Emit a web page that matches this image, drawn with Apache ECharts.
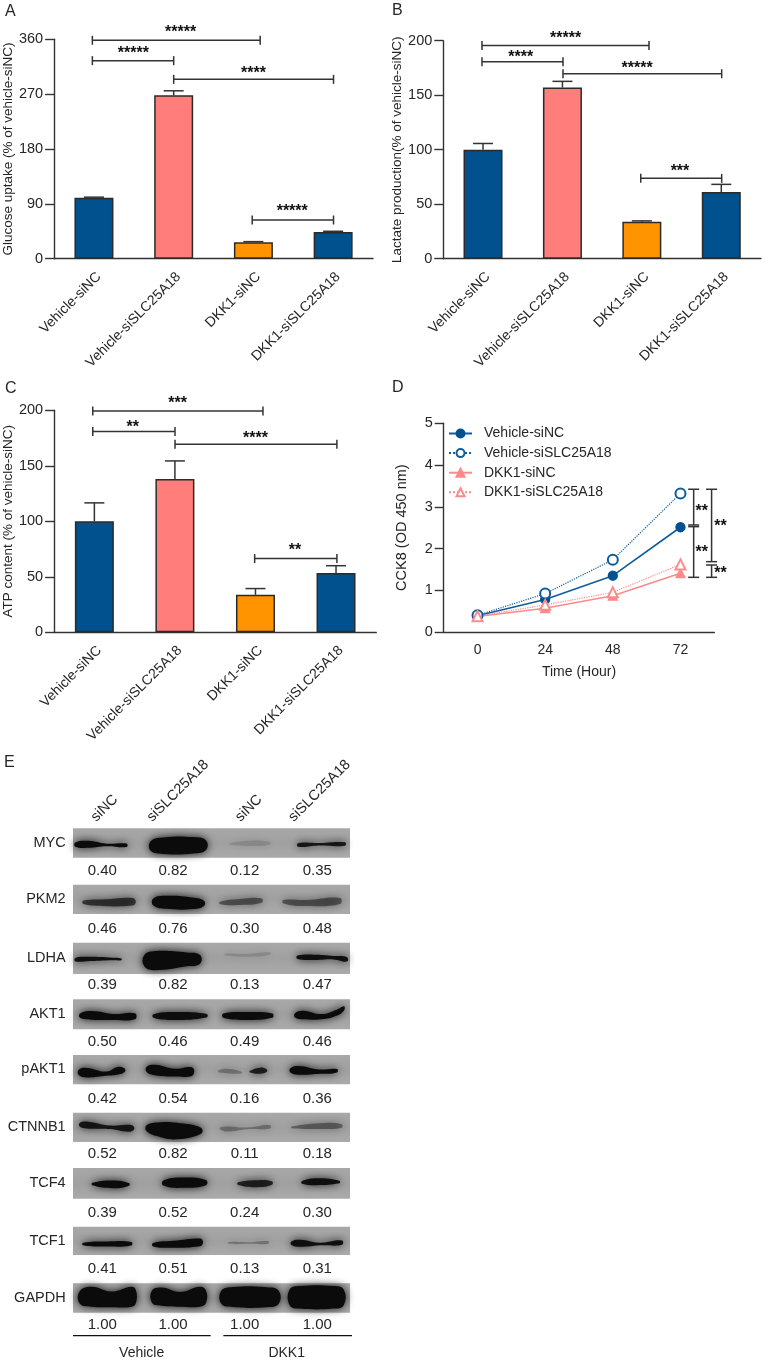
<!DOCTYPE html>
<html><head><meta charset="utf-8">
<style>html,body{margin:0;padding:0;background:#fff}#c{width:766px;height:1363px}</style>
<script src="https://cdn.jsdelivr.net/npm/echarts@6/dist/echarts.min.js"></script>
</head><body><div id="c"></div>
<script>
const groups = ['Vehicle-siNC','Vehicle-siSLC25A18','DKK1-siNC','DKK1-siSLC25A18'];
const hours = ['0','24','48','72'];

const glucose = [100, 268, 27, 44];
const glucoseErr = [101, 275.5, 28, 45];
const lactate = [100, 157, 34, 61.2];
const lactateErr = [105.7, 162.7, 34.7, 68.2];
const atp = [100, 138, 33.8, 53.5];
const atpErr = [116.6, 154.4, 39.4, 60];

const cckVehicleNC = [0.39, 0.78, 1.35, 2.51];
const cckVehicleSi = [0.40, 0.92, 1.73, 3.32];
const cckDkkNC = [0.37, 0.57, 0.87, 1.41];
const cckDkkSi = [0.38, 0.65, 0.95, 1.62];

// [from, to, level, star x, star y, stars]  (x in category-band units)
const sigA = [[.48,2.585,358.4,1.587,376.5,'*****'],[.48,1.5,325,.994,342,'*****'],[1.5,3.505,294.3,2.5,308,'****'],[2.485,3.505,63.5,2.987,81.5,'*****']];
const sigB = [[.487,2.59,195.7,1.54,205,'*****'],[.487,1.507,180.7,.975,187.5,'****'],[1.507,3.505,169.7,2.44,177.5,'*****'],[2.486,3.505,73.7,2.98,83,'***']];
const sigC = [[.48,2.593,199.4,1.534,208.5,'***'],[.48,1.501,180.8,.976,187.5,'**'],[1.501,3.511,169.4,2.5,177.5,'****'],[2.49,3.511,66.4,2.99,76.5,'**']];
// [level from, level to, x, star x, star y, stars]
const sigD = [[3.42,2.564,3.695,3.814,2.96,'**'],[2.524,1.31,3.695,3.814,1.97,'**'],[3.42,1.685,3.96,4.09,2.59,'**'],[1.605,1.31,3.96,4.09,1.48,'**']];

const blotRows = ['MYC','PKM2','LDHA','AKT1','pAKT1','CTNNB1','TCF4','TCF1','GAPDH'];
const blotLanes = ['siNC','siSLC25A18','siNC','siSLC25A18'];
const blotTreatments = ['Vehicle','DKK1'];
const blotQuant = [
  ['0.40','0.82','0.12','0.35'],['0.46','0.76','0.30','0.48'],['0.39','0.82','0.13','0.47'],
  ['0.50','0.46','0.49','0.46'],['0.42','0.54','0.16','0.36'],['0.52','0.82','0.11','0.18'],
  ['0.39','0.52','0.24','0.30'],['0.41','0.51','0.13','0.31'],['1.00','1.00','1.00','1.00']];

/* scan layout: 1 unit = 1/3 page px, origin at the top-left of panel E */
const scanRowSpan = [[235,323],[404,492],[578,672],[748,838],[915,1003],[1088,1176],[1254,1346],[1430,1515],[1600,1688]];
const scanQuantY = [362,538,705,875,1046,1212,1390,1558,1725];
const scanLaneX = [307,519,734,952];
// band traces: [row, opacity, [x, y, half thickness]...]
const scanBands = [
 [0,1,[[226,284,5],[265,283,8],[320,285,3],[380,286,4]]],
 [0,1,[[452,288,11],[490,287,19],[580,286,19],[618,286,11]]],
 [0,.12,[[690,282,2],[750,280,6],[810,280,3]]],
 [0,.9,[[894,285,4],[950,283,3],[1035,282,4]]],
 [1,.68,[[250,457,4],[320,458,8],[395,455,9],[406,455,4]]],
 [1,1,[[460,456,8],[500,457,15],[580,460,13],[612,460,6]]],
 [1,.48,[[660,459,3],[720,456,7],[785,452,5]]],
 [1,.48,[[850,455,4],[920,459,7],[1020,453,7]]],
 [2,.95,[[226,629,4],[260,627,5],[340,627,3],[364,628,2]]],
 [2,1,[[432,632,12],[460,632,22],[560,628,16],[600,628,10]]],
 [2,.14,[[675,614,2],[740,616,3],[810,611,3]]],
 [2,.95,[[892,622,4],[950,622,6],[1000,623,4],[1041,628,5]]],
 [3,1,[[240,797,5],[275,796,10],[340,801,7],[405,799,7]]],
 [3,.95,[[460,798,4],[520,798,9],[620,797,4]]],
 [3,.98,[[670,797,5],[740,798,9],[817,797,5]]],
 [3,1,[[885,796,5],[910,795,10],[965,800,6],[1010,788,7],[1032,775,5]]],
 [4,1,[[236,967,6],[260,968,11],[320,971,5],[355,962,9],[374,961,4]]],
 [4,1,[[440,958,6],[465,960,12],[525,968,9],[570,965,11],[581,964,6]]],
 [4,.28,[[655,964,2],[680,963,5],[725,968,2]]],
 [4,.85,[[750,965,2],[780,962,7],[800,962,3]]],
 [4,1,[[871,961,5],[895,961,10],[960,965,5],[1011,962,4]]],
 [5,.9,[[239,1124,4],[260,1125,8],[330,1132,4],[385,1135,8],[401,1135,4]]],
 [5,1,[[440,1135,7],[480,1139,17],[530,1143,19],[603,1142,7]]],
 [5,.3,[[660,1135,2],[680,1137,6],[740,1135,2],[810,1130,4]]],
 [5,.4,[[875,1132,2],[970,1128,7],[1025,1128,4]]],
 [6,1,[[277,1302,3],[340,1303,9],[387,1303,3]]],
 [6,1,[[490,1299,6],[550,1298,12],[618,1298,6]]],
 [6,.82,[[714,1301,3],[770,1301,8],[816,1299,4]]],
 [6,.95,[[906,1297,3],[950,1295,8],[1018,1296,3]]],
 [7,1,[[249,1482,3],[320,1482,6],[394,1481,4]]],
 [7,1,[[459,1484,4],[520,1483,8],[600,1477,9],[608,1477,4]]],
 [7,.28,[[685,1479,2],[745,1479,2],[805,1477,3]]],
 [7,.95,[[874,1480,4],[900,1480,8],[960,1482,3],[1026,1478,5]]],
 [8,1,[[239,1642,14],[275,1640,23],[335,1648,18],[395,1640,23],[408,1640,14]]],
 [8,1,[[456,1640,14],[485,1640,21],[540,1648,17],[600,1640,23],[618,1640,14]]],
 [8,1,[[664,1642,15],[700,1641,23],[800,1642,23],[836,1642,15]]],
 [8,1,[[869,1642,18],[900,1642,26],[1000,1642,26],[1031,1642,18]]]
];

const FONT = '"Liberation Sans", Arial, sans-serif';
const INK = '#262626', AXIS = '#333333';
const BLUE = '#01518F', PINK = '#FF7D7B', ORANGE = '#FF9300';
const barColors = [BLUE, PINK, ORANGE, BLUE];
const LINE_BLUE = '#0F5C9C', LINE_PINK = '#FB8B8B';

const panels = [
  {l:54,   t:39.3,  w:319,   h:219.4, max:360, iv:90, nm:'Glucose uptake (% of vehicle-siNC)', gap:33, v:glucose, e:glucoseErr, s:sigA},
  {l:443.3,t:40.7,  w:317.7, h:218,   max:200, iv:50, nm:'Lactate production(% of vehicle-siNC)', gap:33, v:lactate, e:lactateErr, s:sigB},
  {l:54,   t:410.3, w:322.3, h:222,   max:200, iv:50, nm:'ATP content (% of vehicle-siNC)', gap:33, v:atp, e:atpErr, s:sigC}
];

const grid=[], xAxis=[], yAxis=[], series=[];

function xCat(i, data, rot){
  const label={color:INK,fontFamily:FONT,fontSize:14,rotate:rot,margin:rot?11:11,interval:0};
  if(rot) label.verticalAlign='top';
  return {type:'category', gridIndex:i, data, boundaryGap:true,
    axisLine:{lineStyle:{color:AXIS,width:1.4}},
    axisTick:{alignWithLabel:true,length:8,lineStyle:{color:AXIS,width:1.4}},
    axisLabel:label};
}
function xHidden(i){ return {type:'value',gridIndex:i,min:0,max:4,show:false}; }
function yVal(i,max,iv,nm,gap,nf){
  return {type:'value',gridIndex:i,min:0,max,interval:iv,splitLine:{show:false},
    name:nm,nameLocation:'middle',nameGap:gap,nameRotate:90,
    nameTextStyle:{color:INK,fontFamily:FONT,fontSize:nf||13.5},
    axisLine:{show:true,lineStyle:{color:AXIS,width:1.4}},
    axisTick:{show:true,length:9,lineStyle:{color:AXIS,width:1.4}},
    axisLabel:{color:INK,fontFamily:FONT,fontSize:14.5,margin:11}};
}
function starText(api,x,y,txt){
  const p=api.coord([x,y]);
  return {type:'text',style:{x:p[0],y:p[1]+3,text:txt,fill:'#111',font:'bold 16px '+FONT,align:'center',verticalAlign:'middle'}};
}
function seg(a,b){ return {type:'line',shape:{x1:a[0],y1:a[1],x2:b[0],y2:b[1]},style:{stroke:AXIS,lineWidth:1.5}}; }

panels.forEach((p,i)=>{
  grid.push({left:p.l,top:p.t,width:p.w,height:p.h});
  xAxis.push(xCat(i,groups,45)); xAxis.push(xHidden(i));
  yAxis.push(yVal(i,p.max,p.iv,p.nm,p.gap));
  series.push({type:'bar',xAxisIndex:i*2,yAxisIndex:i,barWidth:39,silent:true,
    data:p.v.map((v,k)=>({value:v,itemStyle:{color:barColors[k],borderColor:'#2b2b2b',borderWidth:1.5}}))});
  series.push({type:'custom',xAxisIndex:i*2,yAxisIndex:i,silent:true,z:1,
    data:p.e.map((e,k)=>[k,e,p.v[k]]),
    renderItem:(ctx,api)=>{
      const a=api.coord([api.value(0),api.value(2)]), b=api.coord([api.value(0),api.value(1)]);
      return {type:'group',children:[seg(a,b),seg([b[0]-10,b[1]],[b[0]+10,b[1]])]};
    }});
  series.push({type:'custom',xAxisIndex:i*2+1,yAxisIndex:i,silent:true,clip:false,z:5,
    data:p.s,
    renderItem:(ctx,api)=>{
      const s=p.s[ctx.dataIndex];
      const a=api.coord([s[0],s[2]]), b=api.coord([s[1],s[2]]);
      return {type:'group',children:[seg(a,b),seg([a[0],a[1]-4.5],[a[0],a[1]+4.5]),seg([b[0],b[1]-4.5],[b[0],b[1]+4.5]),starText(api,s[3],s[4],s[5])]};
    }});
});

/* Panel D */
grid.push({left:443.7,top:423.3,width:270.6,height:208.7});
xAxis.push(Object.assign(xCat(3,hours,0),{name:'Time (Hour)',nameLocation:'middle',nameGap:33,nameTextStyle:{color:INK,fontFamily:FONT,fontSize:14}}));
xAxis.push(xHidden(3));
yAxis.push(yVal(3,5,1,'CCK8 (OD 450 nm)',34,14.5));
const lineSeries=[
  ['Vehicle-siNC',cckVehicleNC,LINE_BLUE,'solid','circle',9,BLUE],
  ['Vehicle-siSLC25A18',cckVehicleSi,LINE_BLUE,'dotted','emptyCircle',10,LINE_BLUE],
  ['DKK1-siNC',cckDkkNC,LINE_PINK,'solid','triangle',9,LINE_PINK],
  ['DKK1-siSLC25A18',cckDkkSi,LINE_PINK,'dotted','emptyTriangle',10,LINE_PINK]
];
lineSeries.forEach(s=>series.push({name:s[0],type:'line',xAxisIndex:6,yAxisIndex:3,data:s[1],
  symbol:s[4],symbolSize:s[5],showSymbol:true,silent:true,
  lineStyle:{color:s[2],type:s[3],width:s[3]==='solid'?1.6:1.2},
  itemStyle:{color:s[6],borderColor:s[6],borderWidth:1.3}}));
series.push({type:'custom',xAxisIndex:7,yAxisIndex:3,silent:true,clip:false,z:5,data:sigD,
  renderItem:(ctx,api)=>{
    const s=sigD[ctx.dataIndex];
    const a=api.coord([s[2],s[0]]), b=api.coord([s[2],s[1]]);
    return {type:'group',children:[seg(a,b),seg([a[0]-5.5,a[1]],[a[0]+5.5,a[1]]),seg([b[0]-5.5,b[1]],[b[0]+5.5,b[1]]),starText(api,s[3],s[4],s[5])]};
  }});

/* Panel E: axes in scan units */
grid.push({left:0,top:750,width:370,height:613});
xAxis.push({type:'value',gridIndex:4,min:0,max:1110,show:false});
yAxis.push({type:'value',gridIndex:4,min:0,max:1839,inverse:true,show:false});
const BLOT_X0=219, BLOT_X1=1050, BAND_GAIN=1.3;
series.push({type:'custom',xAxisIndex:8,yAxisIndex:4,silent:true,clip:false,z:2,data:blotRows,
  renderItem:(ctx,api)=>{
    const r=ctx.dataIndex, sp=scanRowSpan[r];
    const a=api.coord([BLOT_X0,sp[0]]), b=api.coord([BLOT_X1,sp[1]]);
    const kids=[{type:'rect',shape:{x:a[0],y:a[1],width:b[0]-a[0],height:b[1]-a[1]},
      style:{fill:{type:'linear',x:0,y:0,x2:0,y2:1,colorStops:[{offset:0,color:'#a8a8a8'},{offset:.5,color:'#a0a0a0'},{offset:1,color:'#aaaaaa'}]}}}];
    const lab=api.coord([197,(sp[0]+sp[1])/2-1]);
    kids.push({type:'text',style:{x:lab[0],y:lab[1],text:blotRows[r],fill:INK,font:'14.5px '+FONT,align:'right',verticalAlign:'middle'}});
    blotQuant[r].forEach((q,k)=>{const p=api.coord([scanLaneX[k],scanQuantY[r]]);
      kids.push({type:'text',style:{x:p[0],y:p[1],text:q,fill:INK,font:'15px '+FONT,align:'center',verticalAlign:'middle'}});});
    return {type:'group',children:kids};
  }});
series.push({type:'custom',xAxisIndex:8,yAxisIndex:4,silent:true,clip:false,z:3,data:scanBands.map((b,i)=>[i]),
  renderItem:(ctx,api)=>{
    const b=scanBands[ctx.dataIndex], pts=b[2];
    const up=pts.map(t=>api.coord([t[0],t[1]-t[2]*BAND_GAIN]));
    const dn=pts.map(t=>api.coord([t[0],t[1]+t[2]*BAND_GAIN])).reverse();
    return {type:'polygon',shape:{points:up.concat(dn),smooth:.45},
      style:{fill:'#0b0b0b',opacity:b[1],shadowBlur:8,shadowColor:'#111'}};
  }});
series.push({type:'custom',xAxisIndex:8,yAxisIndex:4,silent:true,clip:false,z:4,data:blotLanes,
  renderItem:(ctx,api)=>{
    const k=ctx.dataIndex, st=[[296,224],[464,224],[729,224],[889,224]][k];
    const p=api.coord(st);
    return {type:'text',x:p[0],y:p[1],rotation:Math.PI/4,
      style:{x:0,y:0,text:blotLanes[k],fill:INK,font:'14.5px '+FONT,align:'left',verticalAlign:'bottom'}};
  }});
series.push({type:'custom',xAxisIndex:8,yAxisIndex:4,silent:true,clip:false,z:4,data:blotTreatments,
  renderItem:(ctx,api)=>{
    const k=ctx.dataIndex, sp=[[219,632,425],[670,1056,860]][k];
    const a=api.coord([sp[0],1757]), b=api.coord([sp[1],1757]), c=api.coord([sp[2],1808]);
    return {type:'group',children:[
      {type:'line',shape:{x1:a[0],y1:a[1],x2:b[0],y2:b[1]},style:{stroke:'#111',lineWidth:1.3}},
      {type:'text',style:{x:c[0],y:c[1],text:blotTreatments[k],fill:INK,font:'14px '+FONT,align:'center',verticalAlign:'middle'}}]};
  }});

const letters=[['A',11,12],['B',398,11],['C',11,389],['D',398,388],['E',10,763]];

const option={
  animation:false,backgroundColor:'#fff',
  textStyle:{fontFamily:FONT},
  grid,xAxis,yAxis,series,
  legend:{data:lineSeries.map(s=>s[0]),orient:'vertical',left:443,top:421.5,itemWidth:23,itemHeight:10,itemGap:5.6,
    selectedMode:false,textStyle:{color:INK,fontFamily:FONT,fontSize:14,lineHeight:14,padding:[0,0,0,7]}},
  graphic:letters.map(l=>({type:'text',left:l[1]-6,top:l[2]-8,style:{text:l[0],fill:INK,font:'16px '+FONT}}))
};
echarts.init(document.getElementById('c'),null,{renderer:'canvas'}).setOption(option);
</script></body></html>
